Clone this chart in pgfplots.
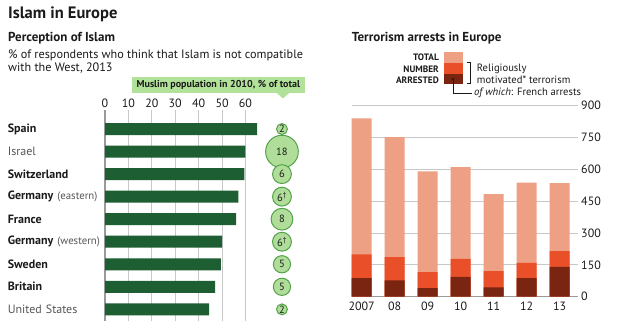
\documentclass[border=0pt]{standalone}
\usepackage{fontspec}
\setmainfont{PT Sans}
\usepackage{pgfplots}
\pgfplotsset{compat=1.18}
\definecolor{bargreen}{HTML}{1D5E32}
\definecolor{bubblefill}{HTML}{B0DE9A}
\definecolor{bubbleline}{HTML}{52A348}
\definecolor{boxgreen}{HTML}{B2E29A}
\definecolor{salmon}{HTML}{EDA084}
\definecolor{redor}{HTML}{E9502A}
\definecolor{brownd}{HTML}{7A2412}
\definecolor{gridgray}{HTML}{C8C8C8}
\definecolor{axisgray}{HTML}{9A9A9A}
\definecolor{textdark}{HTML}{1A1A1A}
\definecolor{textgray}{HTML}{555555}
\newcommand{\ctry}[1]{\textbf{#1}}
\newcommand{\sub}[1]{{\fontsize{10.8}{12}\selectfont\color{textgray}#1}}
\begin{document}
\begin{tikzpicture}
\path[use as bounding box] (0,0) rectangle (620pt,324pt);
% titles
\node[anchor=base west, inner sep=0, text=textdark, font=\fontsize{16.5}{19}\selectfont\bfseries] at (8pt,305.7pt) {Islam in Europe};
\node[anchor=base west, inner sep=0, text=textdark, font=\fontsize{13}{15}\selectfont\bfseries] at (8pt,282.3pt) {Perception of Islam};
\node[anchor=base west, inner sep=0, text=textdark, font=\fontsize{12.2}{14}\selectfont] at (8pt,265.7pt) {\% of respondents who think that Islam is not compatible};
\node[anchor=base west, inner sep=0, text=textdark, font=\fontsize{12.2}{14}\selectfont] at (8pt,252.3pt) {with the West, 2013};
\fill[boxgreen] (131.7pt,247.3pt) rectangle (305pt,230.7pt);
\fill[boxgreen] (277pt,230.8pt) -- (289pt,230.8pt) -- (283pt,225.5pt) -- cycle;
\node[anchor=center, inner sep=0, text=textdark, font=\fontsize{10}{12}\selectfont\bfseries] at (218.3pt,238.8pt) {Muslim population in 2010, \% of total};
\node[anchor=base west, inner sep=0, text=textdark, font=\fontsize{13}{15}\selectfont\bfseries] at (351.7pt,282.3pt) {Terrorism arrests in Europe};
% legend
\node[anchor=base east, inner sep=0, text=textdark, font=\fontsize{9.3}{10}\selectfont\bfseries] at (439pt,263.3pt) {TOTAL};
\node[anchor=base east, inner sep=0, text=textdark, font=\fontsize{9.3}{10}\selectfont\bfseries] at (439pt,251.7pt) {NUMBER};
\node[anchor=base east, inner sep=0, text=textdark, font=\fontsize{9.3}{10}\selectfont\bfseries] at (439pt,240pt) {ARRESTED};
\fill[salmon] (444pt,271.7pt) rectangle (463.3pt,261.3pt);
\fill[redor] (444pt,261.3pt) rectangle (463.3pt,249.7pt);
\fill[brownd] (444pt,249.7pt) rectangle (463.3pt,239.7pt);
\draw[textdark, line width=0.7pt] (466.5pt,261.3pt) -- (470.5pt,261.3pt) -- (470.5pt,240.2pt) -- (466.5pt,240.2pt);
\draw[textdark, line width=0.7pt] (453pt,245pt) -- (453pt,230.5pt) -- (471.5pt,230.5pt);
\fill[textdark] (453pt,245pt) circle (1.2pt);
\node[anchor=base west, inner sep=0, text=textdark, font=\fontsize{10.6}{12}\selectfont] at (476.7pt,252.3pt) {Religiously};
\node[anchor=base west, inner sep=0, text=textdark, font=\fontsize{10.6}{12}\selectfont] at (476.7pt,240pt) {motivated* terrorism};
\node[anchor=base west, inner sep=0, text=textdark, font=\fontsize{10.6}{12}\selectfont] at (474pt,228pt) {\textit{of which}: French arrests};
% left chart
\begin{axis}[at={(105pt,3.4pt)}, anchor=south west, scale only axis,
  width=154.5pt, height=210.5pt,
  xmin=0, xmax=66, ymin=-0.84, ymax=8.5, y dir=reverse,
  axis x line*=top, axis y line*=left,
  x axis line style={draw=none}, y axis line style={draw=axisgray, line width=1.2pt},
  xtick={0,10,...,60}, ytick={0,...,8},
  yticklabels={\ctry{Spain},{\color{textgray}Israel},\ctry{Switzerland},{\ctry{Germany} \sub{(eastern)}},\ctry{France},{\ctry{Germany} \sub{(western)}},\ctry{Sweden},\ctry{Britain},{\color{textgray}United States}},
  xmajorgrids, grid style={gridgray, line width=0.8pt},
  major tick length=0, clip=false,
  /pgf/number format/assume math mode=true,
  tick label style={font=\fontsize{12}{14}\selectfont, text=textdark},
  yticklabel style={text width=97pt, align=left, inner xsep=0pt, anchor=east},
  xticklabel style={yshift=-1pt},
  ]
\addplot[xbar, bar width=12pt, bar shift=0pt, fill=bargreen, draw=none] coordinates {(65,0) (60,1) (59.5,2) (57,3) (56,4) (50,5) (49.5,6) (47,7) (44.5,8)};
\addplot[scatter, only marks, mark=*, line width=1pt,
  scatter/use mapped color={draw=bubbleline, fill=bubblefill},
  visualization depends on={sqrt(\thisrow{pop})*3.85 \as \r},
  scatter/@pre marker code/.append style={/tikz/mark size=\r}]
  table[row sep=\\] {x y pop\\ 75.6 0 2\\ 75.6 1 18\\ 75.6 2 6\\ 75.6 3 6\\ 75.6 4 8\\ 75.6 5 6\\ 75.6 6 5\\ 75.6 7 5\\ 75.6 8 2\\};
\addplot[only marks, mark=none, point meta=explicit symbolic, nodes near coords,
  every node near coord/.append style={anchor=center, font=\fontsize{10.5}{12}\selectfont, text=textdark}]
  coordinates {(75.6,0)[2] (75.6,1)[18] (75.6,2)[6] (75.6,3)[6\textsuperscript{\textdagger}] (75.6,4)[8] (75.6,5)[6\textsuperscript{\textdagger}] (75.6,6)[5] (75.6,7)[5] (75.6,8)[2]};
\end{axis}
% right chart
\begin{axis}[at={(351.7pt,27.3pt)}, anchor=south west, scale only axis,
  width=226pt, height=191pt,
  xmin=-0.3, xmax=6.55, ymin=0, ymax=900,
  axis x line*=bottom, axis y line*=right,
  y axis line style={draw=none}, x axis line style={draw=axisgray, line width=1.2pt},
  ytick={0,150,...,900}, xtick={0,...,6}, xticklabels={2007,08,09,10,11,12,13},
  ymajorgrids, grid style={gridgray, line width=0.8pt},
  major tick length=0,
  /pgf/number format/assume math mode=true,
  tick label style={font=\fontsize{12}{14}\selectfont, text=textdark},
  yticklabel style={anchor=west},
  xticklabel style={yshift=-2pt},
  ]
\addplot[ybar, bar width=20pt, bar shift=0pt, fill=salmon, draw=none] coordinates {(0,840) (1,752) (2,591) (3,610) (4,483) (5,537) (6,535)};
\addplot[ybar, bar width=20pt, bar shift=0pt, fill=redor, draw=none] coordinates {(0,200) (1,187) (2,116) (3,178) (4,121) (5,159) (6,215)};
\addplot[ybar, bar width=20pt, bar shift=0pt, fill=brownd, draw=none] coordinates {(0,88) (1,77) (2,41) (3,93) (4,44) (5,88) (6,141)};
\end{axis}
\end{tikzpicture}
\end{document}
